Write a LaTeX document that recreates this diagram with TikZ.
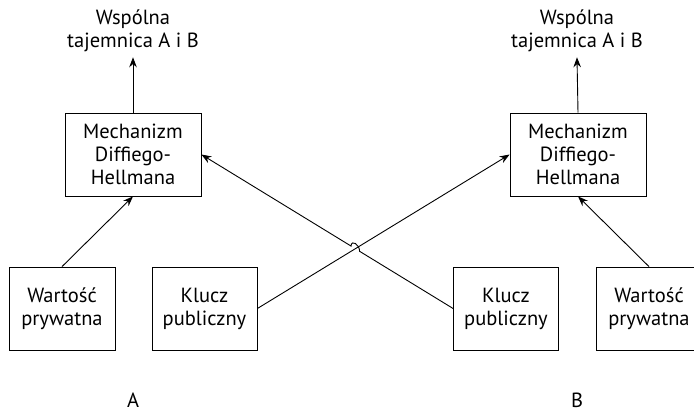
\documentclass[tikz,border=0pt]{standalone}
\usepackage{fontspec}
\setmainfont{PT Sans}
\usetikzlibrary{calc,intersections,arrows.meta}
\tikzstyle{block}=[
        draw, line width=0.8pt, minimum height=83pt, align=center,
        inner sep=2pt, font=\fontsize{20.5}{23}\selectfont
]
\tikzstyle{label}=[
        align=center, inner sep=2pt, font=\fontsize{20.5}{23}\selectfont
]
\tikzstyle{link}=[
        line width=0.9pt, -{Stealth[length=10pt,width=7.5pt]}
]

\begin{document}
\begin{tikzpicture}[x=1pt,y=-1pt]
                        \useasboundingbox (0,0) rectangle (694,413);

                        \node[label] (sekretA) at (133,31) {Wspólna\\tajemnica A i B};
                        \node[label] (sekretB) at (577,31) {Wspólna\\tajemnica A i B};

                        \node[block, minimum width=136pt] (mechA) at (133,154.5) {Mechanizm\\Diffiego-\\Hellmana};
                        \node[block, minimum width=136pt] (mechB) at (578,154.5) {Mechanizm\\Diffiego-\\Hellmana};

                        \node[block, minimum width=106pt] (wartA) at (62,308.5) {Wartość\\prywatna};
                        \node[block, minimum width=105pt] (kluczA) at (204.5,308.5) {Klucz\\publiczny};
                        \node[block, minimum width=105pt] (kluczB) at (506,308.5) {Klucz\\publiczny};
                        \node[block, minimum width=106pt] (wartB) at (649,308.5) {Wartość\\prywatna};

                        \node[label, inner sep=0pt] (stronaA) at (133,400) {A};
                        \node[label, inner sep=0pt] (stronaB) at (577,400) {B};

                        \draw[link] (mechA.north) -- ([yshift=-3pt]sekretA.south);
                        \draw[link] (mechB.north) -- ([yshift=-3pt]sekretB.south);

                        \draw[link] (wartA.north) -- (mechA.south);
                        \draw[link] (wartB.north) -- (mechB.south);

                        \draw[link, name path=ab] (kluczA.east) -- (mechB.west);

                        % line from B to A hops over the other one
                        \path[name path=ba] (kluczB.west) -- (mechA.east);
                        \path[name intersections={of=ab and ba, by=X}];
                        \coordinate (h1) at ($(X)!5pt!(kluczB.west)$);
                        \coordinate (h2) at ($(X)!5pt!(mechA.east)$);
                        \draw[link] (kluczB.west) -- (h1)
                            .. controls ($(h1)+(0,-7)$) and ($(h2)+(0,-7)$) .. (h2)
                            -- (mechA.east);

                    \end{tikzpicture}
\end{document}
